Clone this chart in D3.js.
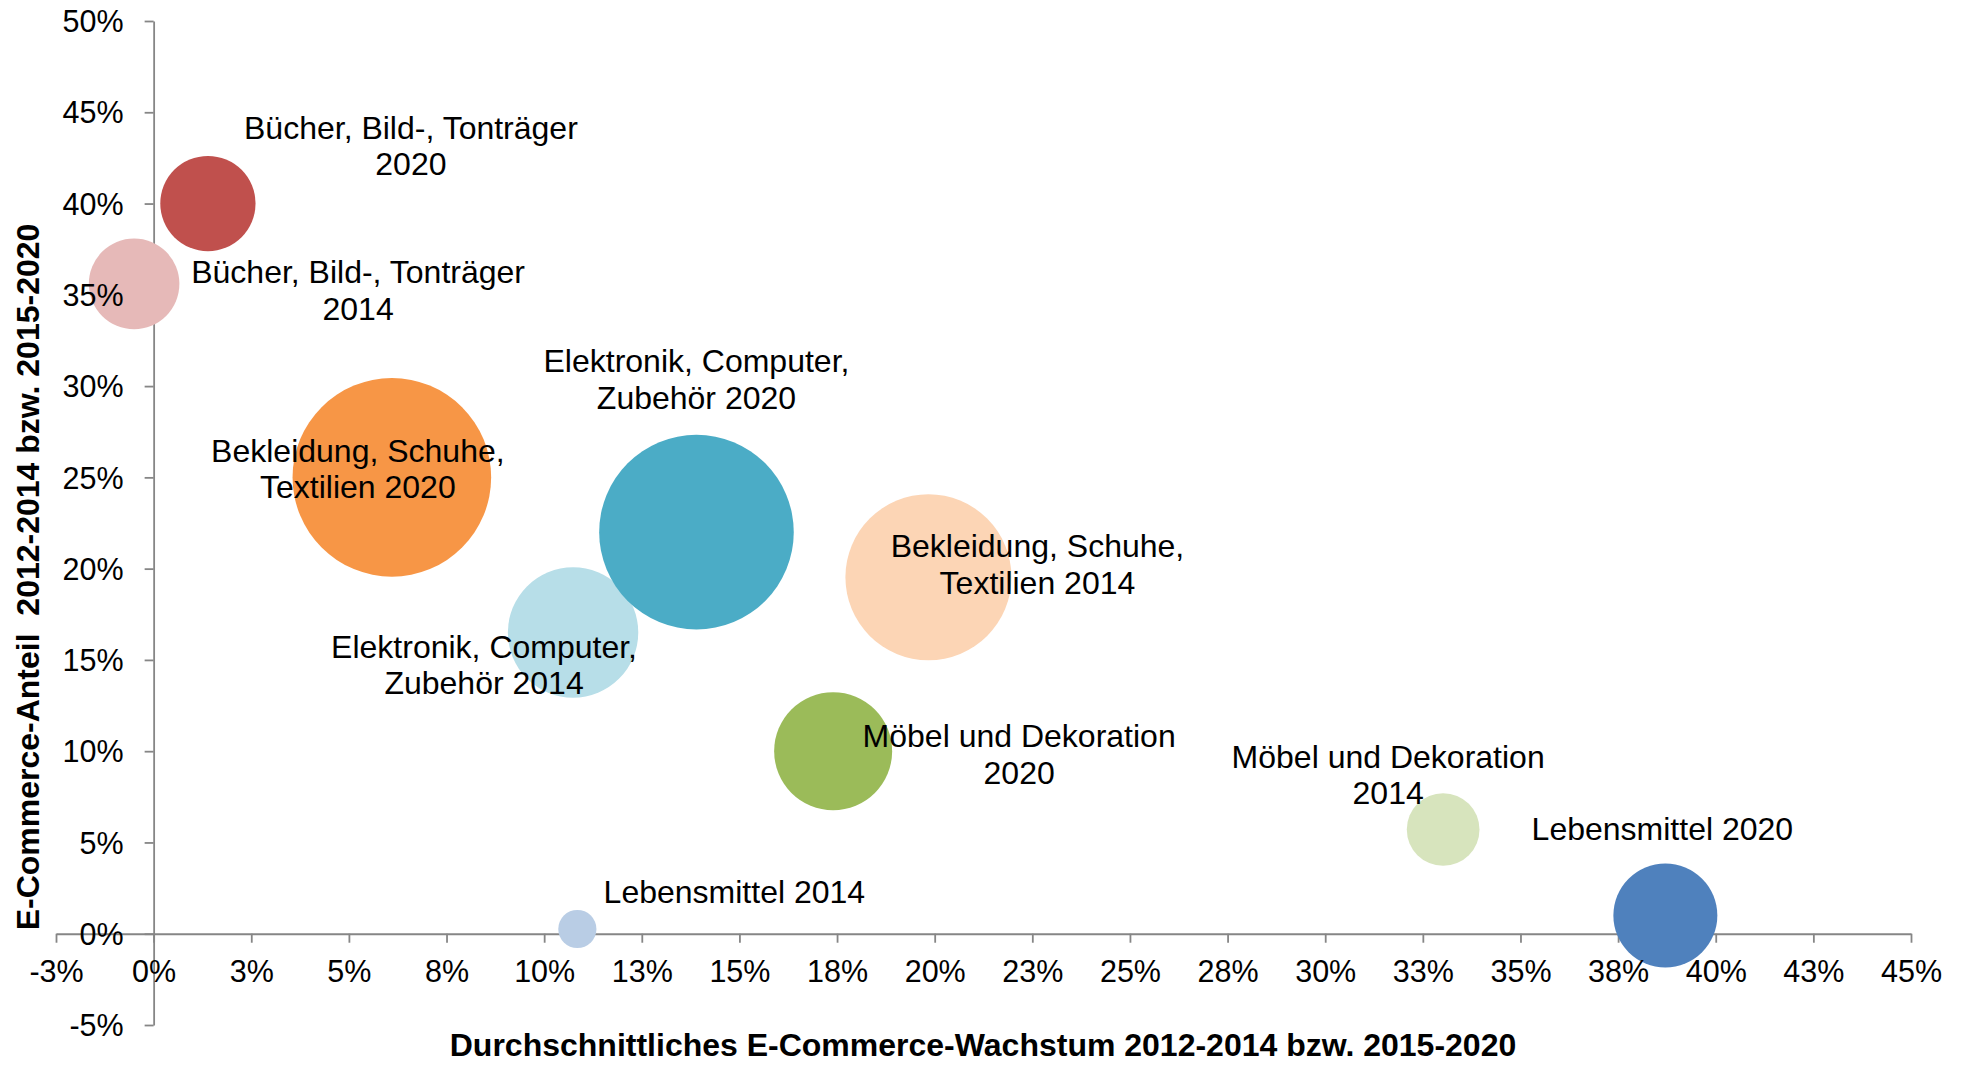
<!DOCTYPE html>
<html lang="de">
<head>
  <meta charset="utf-8">
  <title>E-Commerce Anteil und Wachstum</title>
  <script src="https://cdn.jsdelivr.net/npm/d3@7"></script>
  <style>
    html, body { margin: 0; padding: 0; background: #fff; }
    svg { display: block; font-family: "Liberation Sans", Arial, sans-serif; }
    .axis path, .axis line { stroke: #868686; stroke-width: 1.8px; }
    .axis text { fill: #000; font-size: 30.5px; }
    .title { font-weight: bold; font-size: 32px; fill: #000; white-space: pre; }
    .label { font-size: 32px; fill: #000; }
  </style>
</head>
<body>
<svg width="1968" height="1065"></svg>
<script>
// Werte (in %) – Reihenfolge = Zeichenreihenfolge
var labels = [
  ["Bücher, Bild-, Tonträger", "2014"],
  ["Bücher, Bild-, Tonträger", "2020"],
  ["Bekleidung, Schuhe,", "Textilien 2014"],
  ["Bekleidung, Schuhe,", "Textilien 2020"],
  ["Elektronik, Computer,", "Zubehör 2014"],
  ["Elektronik, Computer,", "Zubehör 2020"],
  ["Möbel und Dekoration", "2014"],
  ["Möbel und Dekoration", "2020"],
  ["Lebensmittel 2014"],
  ["Lebensmittel 2020"]
];
var growth = [-0.5, 1.39, 19.84, 6.1, 10.74, 13.9, 33.02, 17.4, 10.85, 38.71];
var share  = [35.6, 40.0, 19.53, 25.0, 16.5, 22.0, 5.71, 10.0, 0.26, 1.0];
var volume = [2.08, 2.3, 6.99, 10.0, 4.31, 9.6, 1.34, 3.53, 0.37, 2.74];

var colors = ["#E6B9B8", "#C0504D", "#FCD5B5", "#F79646", "#B7DEE8",
              "#4BACC6", "#D7E4BD", "#9BBB59", "#B9CDE5", "#4F81BD"];
// Lage der Beschriftung relativ zur Blase (Mitte der ersten Zeile)
var labelOffset = [[224, -12], [203, -76], [109, -31], [-34, -27], [-89, 14],
                   [0, -171], [-55, -73], [186, -15], [157, -37], [-3, -87]];

var xTicks = [-2.5, 0, 2.5, 5, 7.5, 10, 12.5, 15, 17.5, 20, 22.5, 25, 27.5, 30, 32.5, 35, 37.5, 40, 42.5, 45];
var xTickLabels = ["-3%", "0%", "3%", "5%", "8%", "10%", "13%", "15%", "18%", "20%",
                   "23%", "25%", "28%", "30%", "33%", "35%", "38%", "40%", "43%", "45%"];
var yTicks = [-5, 0, 5, 10, 15, 20, 25, 30, 35, 40, 45, 50];
var yTickLabels = ["-5%", "0%", "5%", "10%", "15%", "20%", "25%", "30%", "35%", "40%", "45%", "50%"];

var svg = d3.select("svg");

var x = d3.scaleLinear().domain([-2.5, 45]).range([56, 1911]),
    y = d3.scaleLinear().domain([-5, 50]).range([1025, 21]),
    r = d3.scaleSqrt().domain([0, 10]).range([0, 99.3]);

var xAxis = d3.axisBottom(x).tickValues(xTicks).tickSize(9).tickSizeOuter(0).tickPadding(12)
      .tickFormat(function(d, i) { return xTickLabels[i]; }),
    yAxis = d3.axisLeft(y).tickValues(yTicks).tickSize(9).tickSizeOuter(0).tickPadding(20)
      .tickFormat(function(d, i) { return yTickLabels[i]; });

// Achsenlinien unter den Blasen
var gx = svg.append("g").attr("class", "axis").attr("transform", "translate(0," + y(0) + ")").call(xAxis);
var gy = svg.append("g").attr("class", "axis").attr("transform", "translate(" + x(0) + ",0)").call(yAxis);
gx.selectAll("text").remove();
gy.selectAll("text").remove();

var data = growth.map(function(g, i) {
  return {x: g, y: share[i], v: volume[i], label: labels[i], color: colors[i], off: labelOffset[i]};
});

svg.append("g").selectAll("circle")
  .data(data)
  .enter().append("circle")
    .attr("cx", function(d) { return x(d.x); })
    .attr("cy", function(d) { return y(d.y); })
    .attr("r", function(d) { return r(d.v); })
    .attr("fill", function(d) { return d.color; });

// Tick-Beschriftungen über den Blasen
var tx = svg.append("g").attr("class", "axis").attr("transform", "translate(0," + y(0) + ")").call(xAxis);
var ty = svg.append("g").attr("class", "axis").attr("transform", "translate(" + x(0) + ",0)").call(yAxis);
tx.selectAll("path, line").remove();
ty.selectAll("path, line").remove();
tx.selectAll("text").attr("dy", null).attr("y", 48);
ty.selectAll("text").attr("x", -30).attr("dy", "0.35em");

var lab = svg.append("g").selectAll("text")
  .data(data)
  .enter().append("text")
    .attr("class", "label")
    .attr("text-anchor", "middle")
    .attr("transform", function(d) { return "translate(" + (x(d.x) + d.off[0]) + "," + (y(d.y) + d.off[1]) + ")"; });

lab.selectAll("tspan")
  .data(function(d) { return d.label; })
  .enter().append("tspan")
    .attr("x", 0)
    .attr("y", function(d, i) { return i * 36.5; })
    .attr("dy", "0.35em")
    .text(function(d) { return d; });

svg.append("text")
    .attr("class", "title")
    .attr("text-anchor", "middle")
    .attr("x", 983)
    .attr("y", 1056)
    .text("Durchschnittliches E-Commerce-Wachstum 2012-2014 bzw. 2015-2020");

svg.append("text")
    .attr("class", "title")
    .attr("text-anchor", "middle")
    .attr("transform", "translate(39,577) rotate(-90)")
    .text("E-Commerce-Anteil  2012-2014 bzw. 2015-2020");
</script>
</body>
</html>
